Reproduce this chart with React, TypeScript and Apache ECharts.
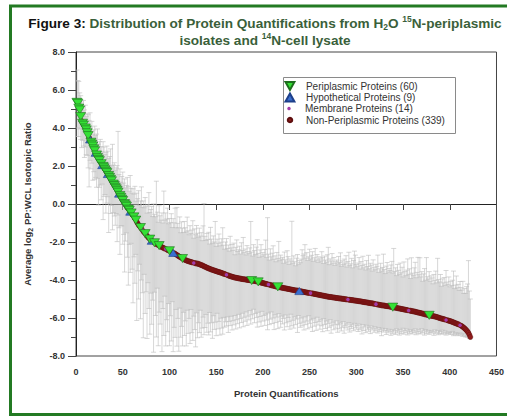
import React, { useEffect, useRef } from 'react';
import * as echarts from 'echarts';

// Average log2 PP:WCL ratio per protein, sorted (rank 1..422)
const values = [
  5.35, 5.30, 5.05, 4.95, 4.60, 4.37, 4.25, 4.15, 4.05, 4.00,
  3.90, 3.75, 3.60, 3.50, 3.40, 3.25, 3.15, 3.05, 2.90, 2.80,
  2.70, 2.58, 2.45, 2.35, 2.28, 2.20, 2.12, 2.05, 1.98, 1.90,
  1.80, 1.72, 1.65, 1.58, 1.50, 1.40, 1.30, 1.22, 1.14, 1.05,
  0.97, 0.88, 0.80, 0.72, 0.62, 0.55, 0.45, 0.35, 0.25, 0.18,
  0.10, 0.02, -0.05, -0.12, -0.20, -0.27, -0.33, -0.40, -0.47, -0.53,
  -0.60, -0.68, -0.77, -0.85, -0.93, -1.02, -1.10, -1.17, -1.24, -1.30,
  -1.37, -1.44, -1.50, -1.56, -1.62, -1.68, -1.74, -1.80, -1.85, -1.89,
  -1.93, -1.96, -2.00, -2.04, -2.07, -2.10, -2.13, -2.16, -2.19, -2.22,
  -2.25, -2.27, -2.30, -2.32, -2.35, -2.37, -2.39, -2.42, -2.44, -2.46,
  -2.48, -2.51, -2.54, -2.57, -2.59, -2.62, -2.65, -2.68, -2.72, -2.75,
  -2.78, -2.81, -2.84, -2.87, -2.90, -2.92, -2.95, -2.97, -2.99, -3.01,
  -3.02, -3.04, -3.05, -3.07, -3.08, -3.10, -3.11, -3.12, -3.13, -3.14,
  -3.15, -3.17, -3.19, -3.21, -3.23, -3.25, -3.28, -3.30, -3.32, -3.35,
  -3.37, -3.39, -3.41, -3.43, -3.45, -3.47, -3.48, -3.50, -3.52, -3.53,
  -3.55, -3.57, -3.58, -3.60, -3.61, -3.63, -3.65, -3.67, -3.68, -3.70,
  -3.72, -3.74, -3.76, -3.78, -3.80, -3.81, -3.83, -3.84, -3.86, -3.87,
  -3.88, -3.89, -3.90, -3.91, -3.92, -3.93, -3.94, -3.95, -3.96, -3.96,
  -3.97, -3.98, -3.99, -4.00, -4.00, -4.01, -4.02, -4.03, -4.04, -4.04,
  -4.05, -4.06, -4.07, -4.08, -4.10, -4.11, -4.12, -4.14, -4.15, -4.16,
  -4.17, -4.19, -4.20, -4.21, -4.22, -4.24, -4.25, -4.26, -4.28, -4.29,
  -4.30, -4.31, -4.33, -4.34, -4.35, -4.36, -4.37, -4.38, -4.39, -4.40,
  -4.41, -4.42, -4.43, -4.44, -4.45, -4.46, -4.47, -4.48, -4.49, -4.50,
  -4.51, -4.52, -4.53, -4.54, -4.55, -4.55, -4.56, -4.57, -4.58, -4.59,
  -4.60, -4.61, -4.62, -4.63, -4.64, -4.65, -4.66, -4.67, -4.68, -4.68,
  -4.69, -4.70, -4.71, -4.72, -4.73, -4.74, -4.75, -4.76, -4.77, -4.78,
  -4.79, -4.80, -4.81, -4.82, -4.83, -4.84, -4.85, -4.86, -4.87, -4.88,
  -4.89, -4.89, -4.90, -4.91, -4.92, -4.92, -4.93, -4.94, -4.95, -4.95,
  -4.96, -4.97, -4.97, -4.98, -4.99, -4.99, -5.00, -5.01, -5.02, -5.02,
  -5.03, -5.04, -5.04, -5.05, -5.06, -5.06, -5.07, -5.08, -5.09, -5.09,
  -5.10, -5.11, -5.12, -5.12, -5.13, -5.14, -5.15, -5.16, -5.17, -5.17,
  -5.18, -5.19, -5.20, -5.21, -5.22, -5.22, -5.23, -5.24, -5.25, -5.26,
  -5.27, -5.28, -5.29, -5.30, -5.31, -5.32, -5.33, -5.34, -5.34, -5.35,
  -5.36, -5.37, -5.38, -5.38, -5.39, -5.40, -5.41, -5.42, -5.43, -5.44,
  -5.45, -5.46, -5.47, -5.48, -5.49, -5.50, -5.51, -5.52, -5.53, -5.54,
  -5.55, -5.56, -5.57, -5.58, -5.59, -5.60, -5.61, -5.62, -5.63, -5.64,
  -5.65, -5.66, -5.67, -5.68, -5.70, -5.71, -5.72, -5.73, -5.74, -5.76,
  -5.77, -5.78, -5.80, -5.81, -5.82, -5.83, -5.85, -5.86, -5.87, -5.88,
  -5.89, -5.90, -5.91, -5.92, -5.93, -5.95, -5.96, -5.98, -6.00, -6.01,
  -6.03, -6.04, -6.05, -6.07, -6.08, -6.10, -6.11, -6.13, -6.14, -6.16,
  -6.17, -6.19, -6.21, -6.23, -6.25, -6.27, -6.29, -6.31, -6.33, -6.35,
  -6.38, -6.40, -6.43, -6.47, -6.51, -6.55, -6.60, -6.65, -6.71, -6.78,
  -6.88, -7.00,
];

// Error bar lengths above each value
const errUp = [
  1.7,1.2,1.4,0.9,1.1,1.0,0.8,1.3,0.9,1.2,0.7,1.0,1.1,0.9,1.4,0.8,1.2,0.6,1.0,1.3,
  0.9,1.1,1.5,0.8,1.0,1.2,0.9,0.7,1.3,1.1,0.8,1.0,1.4,1.2,0.9,1.1,1.6,0.8,2.0,1.0,
  1.2,0.9,1.1,1.3,3.2,1.0,1.4,0.8,1.2,1.5,1.0,1.3,0.9,1.1,1.6,1.2,1.0,1.9,1.3,1.1,
  1.4,1.2,1.7,1.0,1.5,1.3,1.8,1.1,1.4,2.2,1.2,1.6,1.3,1.9,1.5,1.2,1.7,2.4,1.4,1.6,
  1.8,1.3,2.0,1.5,1.4,3.3,1.7,1.2,2.1,1.6,1.4,1.8,1.3,3.0,1.5,1.9,1.6,2.2,1.4,1.7,
  1.5,2.0,1.3,1.8,1.6,2.4,1.4,2.5,1.7,1.5,2.1,1.3,1.9,1.6,1.4,2.0,1.7,1.5,2.3,1.6,
  1.4,1.9,1.5,1.7,2.2,1.3,1.8,1.5,2.0,1.6,1.4,1.9,1.5,1.7,1.3,2.1,3.3,1.6,1.4,1.8,
  1.5,1.9,1.3,2.2,1.6,1.4,1.8,1.5,2.6,1.3,1.7,1.5,2.0,1.4,1.6,1.8,2.4,1.5,1.3,1.7,
  1.9,1.4,1.6,1.3,2.1,1.5,1.7,1.4,1.8,1.2,1.6,2.0,1.4,1.5,1.7,1.3,1.9,1.5,2.2,1.4,
  1.6,1.3,1.8,1.5,1.4,1.7,3.1,1.5,1.3,1.9,1.6,1.4,1.8,2.2,1.5,1.3,1.7,2.0,1.4,1.6,
  1.5,1.8,2.3,1.4,3.5,1.6,1.3,1.9,1.5,1.7,2.1,1.4,1.6,1.3,1.8,1.5,2.4,1.4,1.7,1.5,
  1.6,1.3,1.9,1.5,1.4,2.0,1.7,1.3,1.6,1.5,3.6,1.4,1.8,1.5,1.3,1.7,1.9,1.4,1.6,1.5,
  1.7,2.2,1.9,2.0,2.5,1.8,2.1,1.7,1.9,2.3,1.8,2.0,2.2,1.7,1.9,2.4,1.8,2.1,1.7,2.0,
  1.9,1.8,2.3,2.0,1.7,2.1,1.9,1.8,2.2,2.6,1.7,2.0,1.9,2.3,1.8,2.1,1.7,1.9,2.0,1.8,
  2.2,1.9,2.4,1.7,2.0,1.8,2.1,1.9,2.3,1.7,2.0,2.5,1.8,1.9,2.2,1.7,2.1,2.6,2.4,1.9,
  1.8,2.0,2.3,1.7,2.1,1.9,2.4,1.8,2.0,1.7,2.2,1.9,2.5,1.8,2.1,2.0,1.7,2.3,1.9,1.8,
  2.1,2.0,2.6,1.7,1.9,2.2,1.8,2.0,2.7,1.9,1.7,2.1,2.3,1.8,2.0,1.9,2.2,2.4,1.8,3.1,
  1.9,2.1,1.7,2.3,2.0,1.8,2.4,1.9,2.2,1.7,2.5,2.0,1.8,2.1,2.7,1.9,2.2,1.7,2.8,2.0,
  1.9,2.3,2.6,1.8,2.1,2.9,2.0,2.9,1.9,2.2,1.7,2.1,2.4,1.8,3.0,2.0,1.9,2.3,1.8,2.1,
  2.0,1.7,2.2,1.9,2.4,1.8,3.1,2.0,1.9,2.3,1.7,2.1,1.9,2.2,1.8,2.6,2.0,1.9,2.3,1.8,
  2.1,1.9,2.2,2.7,1.8,2.0,2.5,1.9,2.1,1.8,2.3,2.0,1.9,2.4,1.8,2.1,1.9,2.3,2.5,3.8,
  2.3,2.0,
];

// Error bar lengths below each value
const errDown = [
  1.8,1.3,1.5,1.0,1.2,1.4,0.9,1.1,1.6,1.0,1.3,1.2,1.7,2.6,1.1,1.4,1.0,1.8,1.2,1.5,
  1.3,1.7,1.1,2.4,1.4,1.2,1.9,1.0,2.8,1.5,1.3,2.2,1.6,1.2,3.0,1.4,1.8,1.3,2.5,1.5,
  1.6,2.0,1.3,2.7,1.2,1.8,3.1,1.5,1.4,2.3,1.7,3.6,1.9,1.4,2.6,4.0,1.8,3.2,1.6,2.9,
  4.6,2.1,3.4,1.8,5.2,2.5,3.9,2.0,4.8,2.7,3.3,5.6,2.2,4.2,3.0,5.4,2.4,3.7,5.0,2.8,
  4.4,3.1,5.8,2.6,3.8,4.9,2.3,5.3,3.5,4.1,2.9,5.5,3.2,4.6,2.5,5.1,3.7,4.3,2.8,5.0,
  3.4,4.7,2.6,5.2,3.9,4.4,2.9,4.8,3.3,5.0,2.7,4.2,3.6,4.6,2.8,4.0,3.2,4.5,2.6,3.8,
  3.0,4.3,2.5,3.7,4.1,2.8,3.5,4.4,2.6,3.9,3.1,3.6,2.4,3.8,3.3,2.7,3.6,3.2,2.5,3.4,
  2.9,3.5,2.3,3.3,2.8,3.6,2.4,3.1,2.7,3.4,2.2,3.0,2.6,3.3,2.4,2.9,3.2,2.3,2.8,2.5,
  2.7,2.2,3.0,2.4,2.6,2.1,2.8,2.3,2.5,2.0,2.7,2.2,2.4,1.9,2.6,2.1,2.3,1.8,2.5,2.0,
  2.2,1.7,2.4,1.9,2.1,1.6,2.3,1.8,2.0,1.5,2.2,1.7,1.9,2.4,1.6,2.1,1.8,2.3,1.5,2.0,
  1.7,2.2,1.6,1.9,2.4,1.5,2.1,1.8,1.4,2.0,1.7,2.3,1.5,1.9,1.6,2.2,1.4,1.8,2.1,1.5,
  1.9,1.6,2.2,1.4,1.8,2.0,1.5,1.7,2.1,1.3,1.9,1.6,2.0,1.4,1.8,1.5,2.2,1.3,1.7,1.9,
  1.4,1.8,1.6,2.0,1.3,1.7,1.5,1.9,1.2,1.6,1.8,1.4,2.0,1.3,1.7,1.5,1.9,1.2,1.6,1.4,
  1.8,1.3,1.6,1.9,1.2,1.5,1.7,1.3,1.8,1.4,1.6,1.2,1.9,1.5,1.3,1.7,1.4,1.6,1.2,1.8,
  1.4,1.6,1.3,1.7,1.5,1.2,1.8,1.4,1.5,1.3,1.6,1.2,1.7,1.4,1.5,1.3,1.6,1.2,1.4,1.5,
  1.3,1.6,1.2,1.5,1.4,1.7,1.2,1.5,1.3,1.6,1.2,1.4,1.5,1.3,1.6,1.2,1.4,1.3,1.5,1.2,
  1.4,1.3,1.5,1.2,1.4,1.3,1.6,1.2,1.4,1.3,1.2,1.5,1.3,1.4,1.2,1.3,1.5,1.2,1.4,1.3,
  1.2,1.4,1.1,1.3,1.2,1.4,1.1,1.3,1.2,1.0,1.3,1.1,1.2,1.0,1.3,1.1,1.2,1.0,1.1,1.2,
  1.0,1.1,0.9,1.2,1.0,1.1,0.9,1.0,1.1,0.8,1.0,0.9,1.1,0.8,1.0,0.9,0.8,1.0,0.9,0.8,
  0.9,0.8,1.0,0.7,0.9,0.8,0.7,0.9,0.8,0.7,0.8,0.6,0.8,0.7,0.6,0.8,0.7,0.6,0.7,0.6,
  0.7,0.6,0.5,0.7,0.6,0.5,0.6,0.5,0.6,0.5,0.4,0.5,0.4,0.5,0.4,0.3,0.4,0.3,0.3,0.2,
  0.2,0.1,
];

// Positions (0-based) of each protein class within the sorted list
const periplasmicIdx = [
  0,1,2,3,4,6,7,9,10,11,12,15,16,17,18,19,21,22,23,24,26,28,29,30,31,32,34,35,36,37,
  39,40,41,42,43,44,46,47,48,49,51,52,53,55,56,58,61,63,68,73,78,83,88,99,113,187,194,215,338,377,
];
const hypotheticalIdx = [14, 20, 27, 33, 45, 57, 80, 103, 238];
const membraneIdx = [8, 25, 50, 70, 95, 125, 160, 205, 250, 290, 320, 355, 395, 410];

const seriesNames = [
  'Periplasmic Proteins (60)',
  'Hypothetical Proteins (9)',
  'Membrane Proteins (14)',
  'Non-Periplasmic Proteins (339)',
];

const FONT = 'Arial, "Liberation Sans", Helvetica, sans-serif';
const DOWN_TRI = 'path://M0,0L10,0L5,9Z';
const UP_TRI = 'path://M5,0L10,9L0,9Z';
const GREEN_TXT = '#3a5f3a';

export default function App() {
  const ref = useRef<HTMLDivElement>(null);

  useEffect(() => {
    const chart = echarts.init(ref.current!, null, { renderer: 'svg' });
    const pt = (i: number) => [i + 1, values[i]];
    const special = new Set([...periplasmicIdx, ...hypotheticalIdx, ...membraneIdx]);
    const nonIdx = values.map((_, i) => i).filter((i) => !special.has(i));
    const errData = values.map((v, i) => [i + 1, v, v - errDown[i], v + errUp[i]]);

    // icon centred at x=289, text starting at x=305
    const legendBase = (name: string, centerY: number, w: number, h: number) => {
      const left = 289 - w / 2;
      const textPad = 305 - (left + w + 5);
      return {
        data: [name],
        left,
        top: centerY - 6,
        orient: 'vertical',
        padding: 0,
        itemWidth: w,
        itemHeight: h,
        selectedMode: false,
        z: 6,
        textStyle: {
          fontSize: 10, color: '#333', fontFamily: 'Liberation Sans, Arial, sans-serif',
          padding: [0, 0, 0, textPad], lineHeight: 12,
        },
      };
    };

    const big = (color: string) => ({ fontSize: 13.6, fontWeight: 'bold', fontFamily: FONT, color, lineHeight: 17 });
    const small = (va: string, lh: number) => ({
      fontSize: 8.5, fontWeight: 'bold', fontFamily: FONT, color: GREEN_TXT, lineHeight: lh, verticalAlign: va,
    });

    const option: any = {
      animation: false,
      backgroundColor: '#fff',
      textStyle: { fontFamily: FONT },
      title: {
        text:
          '{b|Figure 3:}{g| Distribution of Protein Quantifications from H}{s|2}{g|O }{p|15}{g|N-periplasmic}\n' +
          '{g|isolates and }{p|14}{g|N-cell lysate}',
        left: 265,
        top: 14.5,
        padding: 0,
        textAlign: 'center',
        textStyle: {
          fontSize: 13.6, fontWeight: 'bold', fontFamily: FONT, color: GREEN_TXT, lineHeight: 17,
          rich: { b: big('#111'), g: big(GREEN_TXT), s: small('bottom', 11), p: small('top', 13) },
        },
      },
      grid: {
        left: 76, top: 52, width: 425, height: 304,
        show: true, borderColor: '#444', borderWidth: 1, backgroundColor: 'transparent',
      },
      xAxis: {
        type: 'value', min: 0, max: 450, interval: 50,
        name: 'Protein Quantifications', nameLocation: 'middle', nameGap: 32,
        nameTextStyle: { fontSize: 9.5, fontWeight: 'bold', color: '#333', fontFamily: FONT },
        axisLine: { show: true, lineStyle: { color: '#222', width: 1 } },
        axisTick: { show: true, length: 6, lineStyle: { color: '#444' } },
        axisLabel: { fontSize: 9, fontWeight: 'bold', color: '#333', margin: 11, fontFamily: FONT },
        splitLine: { show: false },
      },
      yAxis: {
        type: 'value', min: -8, max: 8, interval: 2,
        name: 'Average log{sub|2} PP:WCL Isotopic Ratio', nameLocation: 'middle', nameGap: 42,
        nameTextStyle: {
          fontSize: 9.5, fontWeight: 'bold', color: '#333', fontFamily: FONT, lineHeight: 13,
          rich: { sub: { fontSize: 7, fontWeight: 'bold', color: '#333', verticalAlign: 'bottom', lineHeight: 9 } },
        },
        axisLine: { show: true, lineStyle: { color: '#222', width: 1 } },
        axisTick: { show: true, length: 8, lineStyle: { color: '#444' } },
        minorTick: { show: true, splitNumber: 2, length: 5, lineStyle: { color: '#444' } },
        axisLabel: {
          fontSize: 9, fontWeight: 'bold', color: '#333', margin: 11, fontFamily: FONT,
          formatter: (v: number) => v.toFixed(1),
        },
        splitLine: { show: false },
      },
      legend: [
        legendBase(seriesNames[0], 86, 9, 8),
        legendBase(seriesNames[1], 97.5, 9, 8),
        legendBase(seriesNames[2], 108.5, 3.5, 3.5),
        legendBase(seriesNames[3], 120, 4.5, 4.5),
      ],
      graphic: [
        {
          type: 'rect', z: -10, silent: true,
          shape: { x: 10.5, y: 6, width: 520, height: 408.5 },
          style: { fill: 'none', stroke: '#237a23', lineWidth: 3 },
        },
        {
          type: 'rect', z: 3, silent: true,
          shape: { x: 283.5, y: 77.5, width: 172, height: 56 },
          style: { fill: '#fff', stroke: '#8a8a8a', lineWidth: 1 },
        },
      ],
      series: [
        {
          type: 'custom', name: 'errors', silent: true, clip: true, z: 1,
          data: errData,
          encode: { x: 0, y: [1, 2, 3] },
          renderItem: (params: any, api: any) => {
            const x = api.value(0);
            const lo = api.coord([x, api.value(2)]);
            const hi = api.coord([x, api.value(3)]);
            const hw = 2.5;
            const st = { stroke: '#bcbcbc', lineWidth: 0.6 };
            return {
              type: 'group',
              children: [
                { type: 'line', shape: { x1: lo[0], y1: lo[1], x2: hi[0], y2: hi[1] }, style: st },
                { type: 'line', shape: { x1: lo[0] - hw, y1: lo[1], x2: lo[0] + hw, y2: lo[1] }, style: st },
                { type: 'line', shape: { x1: hi[0] - hw, y1: hi[1], x2: hi[0] + hw, y2: hi[1] }, style: st },
              ],
            };
          },
        },
        {
          type: 'scatter', name: seriesNames[3], z: 2,
          data: nonIdx.map(pt), symbol: 'circle', symbolSize: 5,
          itemStyle: { color: '#8e1b1b', borderColor: '#5e0f0f', borderWidth: 0.5, opacity: 1 },
        },
        {
          type: 'scatter', name: seriesNames[2], z: 3,
          data: membraneIdx.map(pt), symbol: 'circle', symbolSize: 3.5,
          itemStyle: { color: '#a23aa8', opacity: 1 },
        },
        {
          type: 'scatter', name: seriesNames[1], z: 4,
          data: hypotheticalIdx.map(pt), symbol: UP_TRI, symbolSize: [9, 8], symbolKeepAspect: true,
          itemStyle: { color: '#3a6fd0', borderColor: '#1d3f8a', borderWidth: 0.6, opacity: 1 },
        },
        {
          type: 'scatter', name: seriesNames[0], z: 5,
          data: periplasmicIdx.map(pt), symbol: DOWN_TRI, symbolSize: [10, 9], symbolKeepAspect: true,
          itemStyle: { color: '#35e035', borderColor: '#1e6e1e', borderWidth: 0.6, opacity: 1 },
        },
      ],
    };
    chart.setOption(option);
    return () => chart.dispose();
  }, []);

  return (
    <div
      ref={ref}
      style={{ position: 'absolute', left: 0, top: 0, width: 507, height: 417, background: '#fff' }}
    />
  );
}
